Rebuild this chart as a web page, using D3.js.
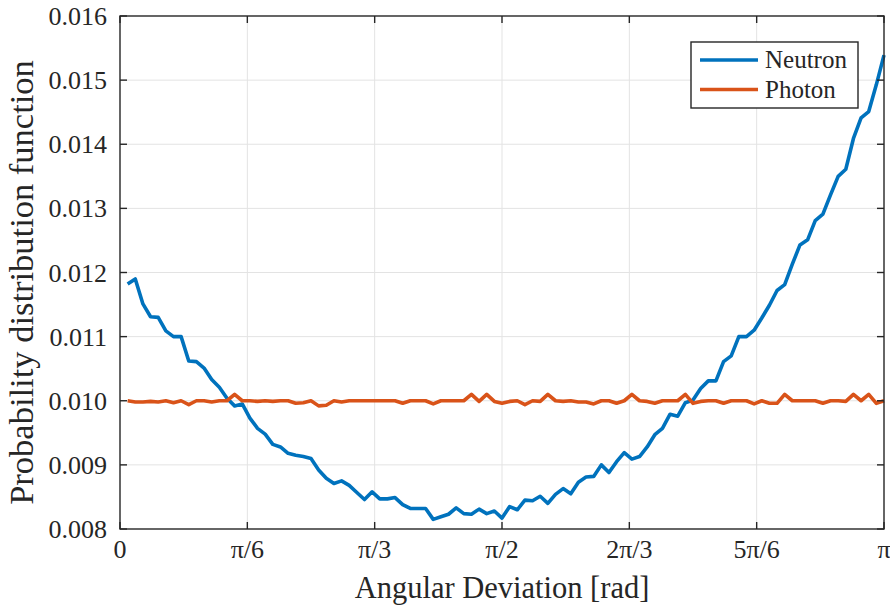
<!DOCTYPE html>
<html>
<head>
<meta charset="utf-8">
<script src="https://cdn.jsdelivr.net/npm/d3@7"></script>
<style>
  html, body { margin: 0; padding: 0; background: #fff; }
</style>
</head>
<body>
<svg id="chart"></svg>
<script>
// probability per angular bin, bins end at k*pi/100 (k = 1..100)
const neutron = [
  0.01182, 0.01190, 0.01151, 0.01131, 0.01130, 0.01109, 0.01100, 0.01100, 0.01062, 0.01061,
  0.01051, 0.01033, 0.01021, 0.01004, 0.00992, 0.00995, 0.00973, 0.00957, 0.00948, 0.00932,
  0.00928, 0.00918, 0.00915, 0.00913, 0.00910, 0.00892, 0.00879, 0.00871, 0.00875, 0.00868,
  0.00857, 0.00846, 0.00858, 0.00847, 0.00847, 0.00849, 0.00838, 0.00832, 0.00832, 0.00832,
  0.00815, 0.00819, 0.00823, 0.00833, 0.00824, 0.00823, 0.00831, 0.00824, 0.00828, 0.00817,
  0.00835, 0.00830, 0.00845, 0.00844, 0.00851, 0.00840, 0.00854, 0.00863, 0.00855, 0.00873,
  0.00881, 0.00882, 0.00900, 0.00888, 0.00905, 0.00919, 0.00909, 0.00913, 0.00928, 0.00947,
  0.00957, 0.00979, 0.00976, 0.00997, 0.01001, 0.01019, 0.01031, 0.01031, 0.01061, 0.01070,
  0.01100, 0.01100, 0.01110, 0.01129, 0.01149, 0.01172, 0.01181, 0.01213, 0.01243, 0.01251,
  0.01281, 0.01291, 0.01321, 0.01350, 0.01361, 0.01409, 0.01441, 0.01451, 0.01493, 0.01539
];
const photon = [
  0.01000, 0.00998, 0.00998, 0.00999, 0.00998, 0.01000, 0.00997, 0.01000, 0.00994, 0.01000,
  0.01000, 0.00998, 0.01000, 0.01000, 0.01010, 0.01000, 0.01000, 0.00999, 0.01000, 0.00999,
  0.01000, 0.01000, 0.00996, 0.00997, 0.01000, 0.00992, 0.00993, 0.01000, 0.00998, 0.01000,
  0.01000, 0.01000, 0.01000, 0.01000, 0.01000, 0.01000, 0.00996, 0.01000, 0.01000, 0.01000,
  0.00995, 0.01000, 0.01000, 0.01000, 0.01000, 0.01010, 0.00999, 0.01010, 0.00999, 0.00996,
  0.00999, 0.01000, 0.00994, 0.01000, 0.00999, 0.01010, 0.01000, 0.00999, 0.01000, 0.00998,
  0.00998, 0.00995, 0.01000, 0.01000, 0.00996, 0.01000, 0.01010, 0.01000, 0.00999, 0.00996,
  0.01000, 0.01000, 0.01000, 0.01010, 0.00996, 0.00999, 0.01000, 0.01000, 0.00996, 0.01000,
  0.01000, 0.01000, 0.00995, 0.01000, 0.00996, 0.00996, 0.01010, 0.01000, 0.01000, 0.01000,
  0.01000, 0.00996, 0.01000, 0.01000, 0.00999, 0.01010, 0.01000, 0.01010, 0.00996, 0.01000
];
const seriesNames = ["Neutron", "Photon"];
const xTickValues = [0, Math.PI / 6, Math.PI / 3, Math.PI / 2, 2 * Math.PI / 3, 5 * Math.PI / 6, Math.PI];
const xTickLabels = ["0", "π/6", "π/3", "π/2", "2π/3", "5π/6", "π"];
const yTickValues = [0.008, 0.009, 0.010, 0.011, 0.012, 0.013, 0.014, 0.015, 0.016];

const width = 890;
const height = 608;
const margins = { top: 16, right: 6, bottom: 79, left: 120 };
const colors = ["#0072BD", "#D95319"];
const axisColor = "#262626";
const tickLen = 7;
const serif = "'Liberation Serif', 'Times New Roman', 'DejaVu Serif', serif";

const svg = d3.select("#chart")
  .attr("width", width)
  .attr("height", height)
  .attr("font-family", serif)
  .style("font-family", serif);

const x = d3.scaleLinear().domain([0, Math.PI]).range([margins.left, width - margins.right]);
const y = d3.scaleLinear().domain([0.008, 0.016]).range([height - margins.bottom, margins.top]);

const x0 = x.range()[0], x1 = x.range()[1];
const y0 = y.range()[0], y1 = y.range()[1];

// grid
const grid = svg.append("g").attr("stroke", "#e3e3e3").attr("stroke-width", 1);
grid.selectAll(".gx").data(xTickValues.slice(1, -1)).join("line")
  .attr("x1", (d) => x(d)).attr("x2", (d) => x(d)).attr("y1", y1).attr("y2", y0);
grid.selectAll(".gy").data(yTickValues.slice(1, -1)).join("line")
  .attr("x1", x0).attr("x2", x1).attr("y1", (d) => y(d)).attr("y2", (d) => y(d));

// series
const line = d3.line()
  .x((d, i) => x(((i + 1) * Math.PI) / neutron.length))
  .y((d) => y(d));

[neutron, photon].forEach((values, k) => {
  svg.append("path")
    .datum(values)
    .attr("fill", "none")
    .attr("stroke", colors[k])
    .attr("stroke-width", 3.6)
    .attr("stroke-linejoin", "round")
    .attr("d", line);
});

// axes (box with inward ticks on all sides)
const axes = svg.append("g").attr("stroke", axisColor).attr("stroke-width", 1.4);
axes.append("rect")
  .attr("x", x0).attr("y", y1).attr("width", x1 - x0).attr("height", y0 - y1)
  .attr("fill", "none");

xTickValues.forEach((v) => {
  axes.append("line").attr("x1", x(v)).attr("x2", x(v)).attr("y1", y0).attr("y2", y0 - tickLen);
  axes.append("line").attr("x1", x(v)).attr("x2", x(v)).attr("y1", y1).attr("y2", y1 + tickLen);
});
yTickValues.forEach((v) => {
  axes.append("line").attr("x1", x0).attr("x2", x0 + tickLen).attr("y1", y(v)).attr("y2", y(v));
  axes.append("line").attr("x1", x1).attr("x2", x1 - tickLen).attr("y1", y(v)).attr("y2", y(v));
});

svg.append("g").selectAll("text").data(xTickValues).join("text")
  .attr("x", (d) => x(d))
  .attr("y", y0 + 29)
  .attr("text-anchor", "middle")
  .attr("font-size", 26)
  .attr("fill", axisColor)
  .text((d, i) => xTickLabels[i]);

svg.append("g").selectAll("text").data(yTickValues).join("text")
  .attr("x", x0 - 13)
  .attr("y", (d) => y(d) + 9)
  .attr("text-anchor", "end")
  .attr("font-size", 26)
  .attr("fill", axisColor)
  .text((d) => d3.format(".3f")(d));

svg.append("text")
  .attr("x", (x0 + x1) / 2)
  .attr("y", 598)
  .attr("text-anchor", "middle")
  .attr("font-size", 30.5)
  .attr("fill", axisColor)
  .text("Angular Deviation [rad]");

svg.append("text")
  .attr("transform", `translate(33, ${(y0 + y1) / 2 + 10}) rotate(-90)`)
  .attr("text-anchor", "middle")
  .attr("font-size", 34.5)
  .attr("fill", axisColor)
  .text("Probability distribution function");

// legend
const legend = svg.append("g").attr("transform", "translate(691, 42)");
legend.append("rect")
  .attr("width", 167).attr("height", 66)
  .attr("fill", "#fff").attr("stroke", axisColor).attr("stroke-width", 1.4);
seriesNames.forEach((name, k) => {
  const ly = 18 + k * 29.5;
  legend.append("line")
    .attr("x1", 9).attr("x2", 67).attr("y1", ly).attr("y2", ly)
    .attr("stroke", colors[k]).attr("stroke-width", 3.6);
  legend.append("text")
    .attr("x", 74).attr("y", ly + 8)
    .attr("font-size", 25)
    .attr("fill", axisColor)
    .text(name);
});
</script>
</body>
</html>
